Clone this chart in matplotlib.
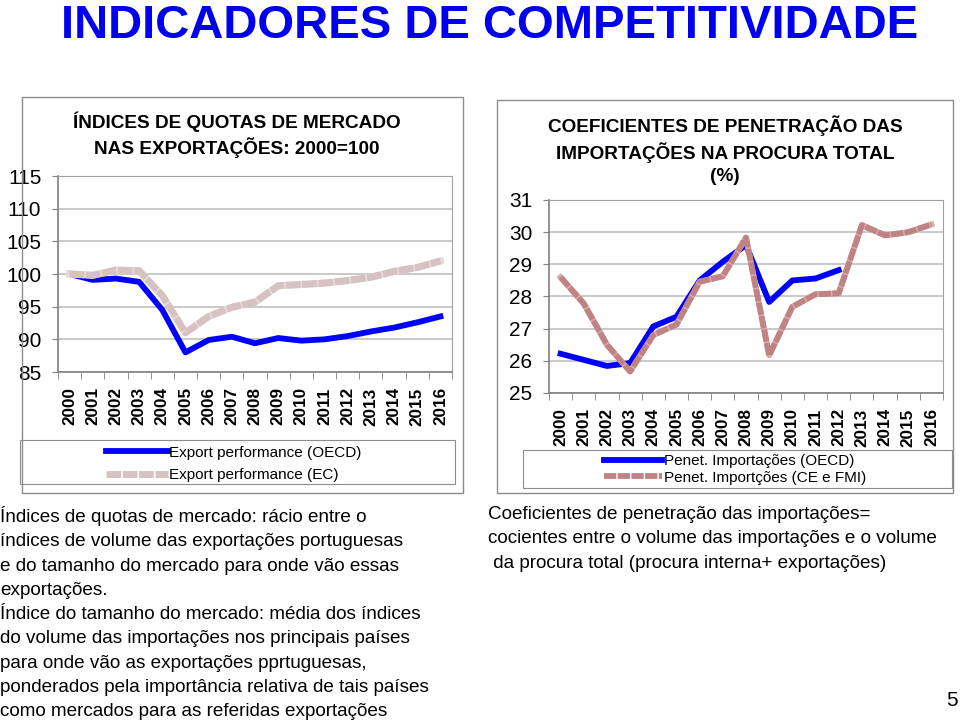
import matplotlib
matplotlib.use("Agg")
import numpy as np
import matplotlib.pyplot as plt
from matplotlib.patches import Rectangle

plt.rcParams['font.family'] = ['Liberation Sans', 'DejaVu Sans']

# dados
years = [str(y) for y in range(2000, 2017)]

quota_oecd = [100, 99.1, 99.3, 98.8, 94.5, 88.0, 89.9, 90.4, 89.4, 90.2,
              89.8, 90.0, 90.5, 91.2, 91.8, 92.6, 93.5]
quota_ec = [100, 99.8, 100.6, 100.5, 96.7, 91.0, 93.5, 94.9, 95.7, 98.2,
            98.4, 98.6, 99.0, 99.5, 100.4, 101.0, 102.0]

penet_oecd = [26.22, 26.03, 25.84, 25.93, 27.07, 27.37, 28.5, 29.08, 29.6,
              27.83, 28.5, 28.56, 28.82]
penet_ce = [28.6, 27.78, 26.5, 25.67, 26.8, 27.13, 28.46, 28.63, 29.83,
            26.17, 27.68, 28.07, 28.1, 30.22, 29.9, 30.0, 30.24]

W, H = 960, 722
fig = plt.figure(figsize=(W / 100, H / 100), dpi=100)


def fx(px):
    return px / W


def fy(py):
    return 1 - py / H


def box(x0, y0, x1, y1, lw=1.0):
    fig.patches.append(Rectangle((fx(x0), fy(y1)), fx(x1) - fx(x0), fy(y0) - fy(y1),
                                 transform=fig.transFigure, fill=False,
                                 edgecolor='#8c8c8c', linewidth=lw))


def style_axis(ax, n, ylim, yticks):
    ax.set_xlim(-0.5, n - 0.5)
    ax.set_ylim(*ylim)
    ax.set_yticks(yticks)
    ax.set_yticklabels([str(t) for t in yticks], fontsize=15)
    ax.set_xticks(range(n))
    ax.set_xticklabels(years, rotation=90, fontsize=12.3, fontweight='bold')
    ax.set_xticks(np.arange(-0.5, n, 1), minor=True)
    ax.tick_params(axis='x', which='major', length=0, pad=11)
    ax.tick_params(axis='x', which='minor', length=5, color='#808080')
    ax.tick_params(axis='y', length=4, color='#808080', pad=8)
    ax.yaxis.grid(True, color='#c0c0c0', linewidth=1.2)
    ax.set_axisbelow(True)
    for s in ['top', 'right']:
        ax.spines[s].set_color('#a0a0a0')
    for s in ['left', 'bottom']:
        ax.spines[s].set_color('#808080')
        ax.spines[s].set_linewidth(1.2)


x = np.arange(len(years))

# grafico esquerdo
ax1 = fig.add_axes([fx(58), fy(372), fx(452) - fx(58), fy(176) - fy(372)])
l1, = ax1.plot(x, quota_oecd, color='#0000ff', linewidth=4.2)
ax1.plot(x, quota_ec, color='#e8dada', linewidth=5)
l2, = ax1.plot(x, quota_ec, color='#d6c2c2', linewidth=5, dashes=(2.1, 0.25))
style_axis(ax1, len(years), (85, 115), [85, 90, 95, 100, 105, 110, 115])
fig.text(fx(237), fy(112), 'ÍNDICES DE QUOTAS DE MERCADO\nNAS EXPORTAÇÕES: 2000=100',
         ha='center', va='top', fontsize=13.7, fontweight='bold', linespacing=1.3)
box(22, 97, 463, 493)
box(20, 440, 455, 484, lw=0.8)
fig.legend([l1, l2], ['Export performance (OECD)', 'Export performance (EC)'],
           loc='center', bbox_to_anchor=(fx(234), fy(464)), frameon=False,
           fontsize=11, handlelength=4.0, handletextpad=0.1, labelspacing=0.55,
           borderpad=0)

# grafico direito
ax2 = fig.add_axes([fx(549), fy(393), fx(943) - fx(549), fy(200) - fy(393)])
l3, = ax2.plot(x[:len(penet_oecd)], penet_oecd, color='#0000ff', linewidth=4.2)
ax2.plot(x, penet_ce, color='#dcaaaa', linewidth=4.2)
l4, = ax2.plot(x, penet_ce, color='#c08383', linewidth=4.2, dashes=(2.1, 0.25))
style_axis(ax2, len(years), (25, 31), [25, 26, 27, 28, 29, 30, 31])
fig.text(fx(725), fy(115), 'COEFICIENTES DE PENETRAÇÃO DAS\nIMPORTAÇÕES NA PROCURA TOTAL\n(%)',
         ha='center', va='top', fontsize=13.7, fontweight='bold', linespacing=1.38)
box(497, 100, 953, 493)
box(523, 450, 952, 488, lw=0.8)
fig.legend([l3, l4], ['Penet. Importações (OECD)', 'Penet. Importções (CE e FMI)'],
           loc='center', bbox_to_anchor=(fx(735), fy(469.5)), frameon=False,
           fontsize=11, handlelength=3.8, handletextpad=0.1, labelspacing=0.15,
           borderpad=0)

# titulo principal
fig.text(fx(490), fy(38), 'INDICADORES DE COMPETITIVIDADE', ha='center', va='baseline',
         fontsize=34, fontweight='bold', color='#0000ee')

# textos explicativos
left_txt = ("Índices de quotas de mercado: rácio entre o\n"
            "índices de volume das exportações portuguesas\n"
            "e do tamanho do mercado para onde vão essas\n"
            "exportações.\n"
            "Índice do tamanho do mercado: média dos índices\n"
            "do volume das importações nos principais países\n"
            "para onde vão as exportações pprtuguesas,\n"
            "ponderados pela importância relativa de tais países\n"
            "como mercados para as referidas exportações")
fig.text(fx(0), fy(506), left_txt, ha='left', va='top', fontsize=13.6, linespacing=1.56)

right_txt = ("Coeficientes de penetração das importações=\n"
             "cocientes entre o volume das importações e o volume\n"
             " da procura total (procura interna+ exportações)")
fig.text(fx(488), fy(506), right_txt, ha='left', va='top', fontsize=13.6, linespacing=1.56)

fig.text(fx(952), fy(701), '5', ha='center', va='center', fontsize=15)

fig.savefig('out.png', dpi=100, facecolor='white')
